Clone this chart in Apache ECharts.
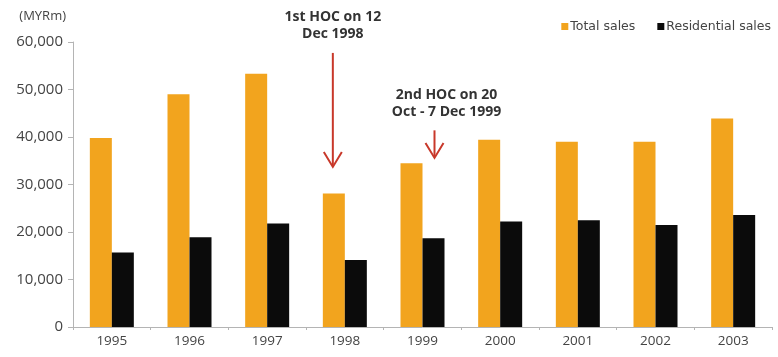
<!DOCTYPE html>
<html>
<head>
<meta charset="utf-8">
<style>
  html, body { margin: 0; padding: 0; background: #fff; }
  #chart { width: 778px; height: 357px; }
</style>
<script src="https://cdn.jsdelivr.net/npm/echarts@6/dist/echarts.min.js"></script>
</head>
<body>
<div id="chart"></div>
<script>
// Annual property sales, MYR million
const years = ['1995', '1996', '1997', '1998', '1999', '2000', '2001', '2002', '2003'];
const totalSales = [39800, 49000, 53300, 28100, 34500, 39400, 39000, 39000, 43900];
const residentialSales = [15700, 18900, 21800, 14100, 18700, 22200, 22500, 21500, 23600];
const yTicks = [0, 10000, 20000, 30000, 40000, 50000, 60000];

// Home Ownership Campaign call-outs: year, arrow start/end value, caption
const hocNotes = [
  { year: '1998', from: 57700, to: 33700, side: -1, lines: ['1st HOC on 12', 'Dec 1998'] },
  { year: '1999', from: 41400, to: 35600, side: 1, lines: ['2nd HOC on 20', 'Oct - 7 Dec 1999'] }
];

const ORANGE = '#F2A41E';
const BLACK = '#0b0b0b';
const AXIS = '#b4b4b4';
const TEXT = '#444444';
const FONT = '"Open Sans", "DejaVu Sans", sans-serif';
const BAR_W = 22;

const chart = echarts.init(document.getElementById('chart'), null, { renderer: 'canvas' });

chart.setOption({
  animation: false,
  backgroundColor: '#ffffff',
  textStyle: { fontFamily: FONT },
  grid: { left: 73, right: 6, top: 42, bottom: 30, containLabel: false },
  legend: {
    right: 2,
    top: 15,
    itemWidth: 7,
    itemHeight: 7,
    itemGap: 22,
    icon: 'rect',
    textStyle: { color: TEXT, fontSize: 12.5, fontFamily: '"DejaVu Sans", sans-serif', padding: [0, 0, 0, -3] },
    data: ['Total sales', 'Residential sales']
  },
  xAxis: {
    type: 'category',
    data: years,
    axisLine: { show: true, lineStyle: { color: AXIS, width: 1 } },
    axisTick: { show: true, length: 3, inside: false, lineStyle: { color: AXIS } },
    axisLabel: { color: TEXT, fontSize: 13.5, margin: 7, fontFamily: FONT }
  },
  yAxis: {
    type: 'value',
    min: yTicks[0],
    max: yTicks[yTicks.length - 1],
    interval: yTicks[1] - yTicks[0],
    name: '(MYRm)',
    nameLocation: 'end',
    nameGap: 19,
    nameTextStyle: { color: TEXT, fontSize: 13, align: 'right', padding: [0, 7, 0, 0], fontFamily: FONT },
    axisLine: { show: true, lineStyle: { color: AXIS, width: 1 } },
    axisTick: { show: true, length: 5, lineStyle: { color: AXIS } },
    splitLine: { show: false },
    axisLabel: {
      color: TEXT,
      fontSize: 15,
      margin: 10,
      fontFamily: FONT,
      formatter: v => v.toLocaleString('en-US')
    }
  },
  series: [
    {
      name: 'Total sales',
      type: 'bar',
      data: totalSales,
      barWidth: BAR_W,
      barGap: '0%',
      itemStyle: { color: ORANGE }
    },
    {
      name: 'Residential sales',
      type: 'bar',
      data: residentialSales,
      barWidth: BAR_W,
      barGap: '0%',
      itemStyle: { color: BLACK }
    }
  ]
});

// Red arrows and captions for the two campaigns, placed through the grid's scales
function drawNotes() {
  const elements = [];
  hocNotes.forEach(note => {
    const top = chart.convertToPixel({ gridIndex: 0 }, [note.year, note.from]);
    const tip = chart.convertToPixel({ gridIndex: 0 }, [note.year, note.to]);
    const x = top[0] + note.side * (BAR_W / 2 + 1);
    const red = '#c8382a';
    elements.push({
      type: 'line',
      shape: { x1: x, y1: top[1], x2: x, y2: tip[1] - 1 },
      style: { stroke: red, lineWidth: 2 }
    });
    elements.push({
      type: 'polyline',
      shape: { points: [[x - 9, tip[1] - 15], [x, tip[1]], [x + 9, tip[1] - 15]] },
      style: { stroke: red, lineWidth: 2, fill: null }
    });
    const cx = note.side < 0 ? x : x + 12;
    elements.push({
      type: 'text',
      style: {
        x: cx,
        y: top[1] - 10,
        text: note.lines.join('\n'),
        textAlign: 'center',
        textVerticalAlign: 'bottom',
        fill: '#333333',
        font: 'bold 14px ' + FONT,
        lineHeight: 17
      }
    });
  });
  chart.setOption({ graphic: { elements: elements } });
}
drawNotes();
</script>
</body>
</html>
